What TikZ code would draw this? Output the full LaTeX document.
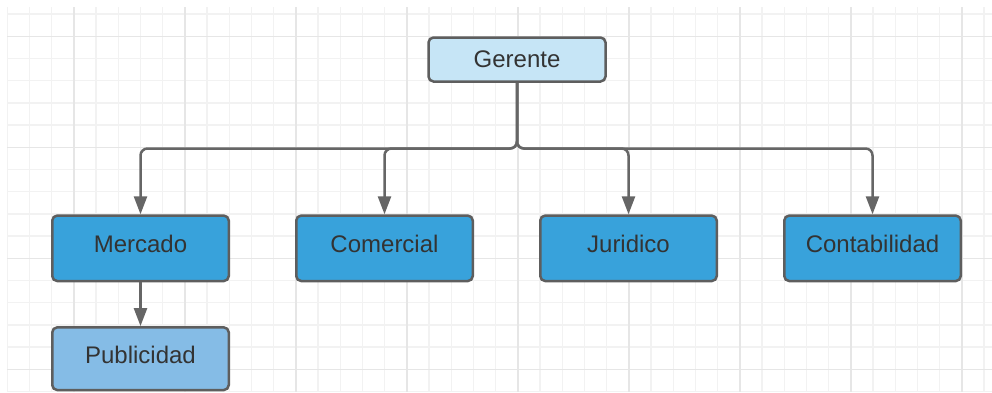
\documentclass[tikz,border=0pt]{standalone}
\usepackage{fontspec}
\setmainfont{Liberation Sans}
\usetikzlibrary{arrows.meta}
\definecolor{gridminor}{HTML}{F2F2F2}
\definecolor{gridmajor}{HTML}{E6E6E6}
\definecolor{bordercol}{HTML}{5E5E5E}
\definecolor{linecol}{HTML}{666666}
\definecolor{textcol}{HTML}{333333}
\definecolor{toplight}{HTML}{C6E5F6}
\definecolor{deptblue}{HTML}{38A2DB}
\definecolor{subblue}{HTML}{85BCE6}
\newcommand\liftby[2]{\raisebox{#1}{#2}}
\tikzset{
  orgbox/.style={draw=bordercol, line width=2.5pt, rounded corners=5pt,
    minimum width=176.5pt, minimum height=65.5pt, inner sep=0pt,
    text=textcol, font=\fontsize{24}{28}\selectfont},
  conn/.style={draw=linecol, line width=2.5pt, rounded corners=7pt,
    -{Triangle[length=18pt,width=13pt]}},
  gridmin/.style={gridminor, line width=1.4pt},
  gridmaj/.style={gridmajor, line width=1.4pt}
}
\begin{document}
\begin{tikzpicture}[x=1pt,y=-1pt]
\useasboundingbox (0,0) rectangle (992,392);
\fill[white] (0,0) rectangle (992,392);
% grid
\foreach \i in {0,...,44} {
  \pgfmathsetmacro\xx{7.3+22.2*\i}
  \draw[gridmin] (\xx,7) -- (\xx,392);
}
\foreach \j in {0,...,17} {
  \pgfmathsetmacro\yy{14+22.2*\j}
  \draw[gridmin] (7,\yy) -- (992,\yy);
}
\foreach \i in {3,8,...,43} {
  \pgfmathsetmacro\xx{7.3+22.2*\i}
  \draw[gridmaj] (\xx,7) -- (\xx,392);
}
\foreach \j in {1,6,11,16} {
  \pgfmathsetmacro\yy{14+22.2*\j}
  \draw[gridmaj] (7,\yy) -- (992,\yy);
}
% nodes
\node[orgbox, fill=toplight, minimum width=177pt, minimum height=44pt] (ger) at (517,59.5) {\liftby{-5pt}{Gerente}};
\node[orgbox, fill=deptblue] (merc) at (140.5,248.3) {\liftby{9pt}{Mercado}};
\node[orgbox, fill=deptblue] (com) at (384.5,248.3) {\liftby{9pt}{Comercial}};
\node[orgbox, fill=deptblue] (jur) at (628.5,248.3) {\liftby{9pt}{Juridico}};
\node[orgbox, fill=deptblue] (cont) at (872.5,248.3) {\liftby{9pt}{Contabilidad}};
\node[orgbox, fill=subblue, minimum height=62.7pt] (pub) at (140.5,358.7) {\liftby{8pt}{Publicidad}};
\coordinate (bus) at (517,148.5);
% connectors
\draw[conn] (ger.south) -- (ger.south |- bus) -| (merc.north);
\draw[conn] (ger.south) -- (ger.south |- bus) -| (com.north);
\draw[conn] (ger.south) -- (ger.south |- bus) -| (jur.north);
\draw[conn] (ger.south) -- (ger.south |- bus) -| (cont.north);
\draw[conn] (merc.south) -- (pub.north);
\end{tikzpicture}
\end{document}
